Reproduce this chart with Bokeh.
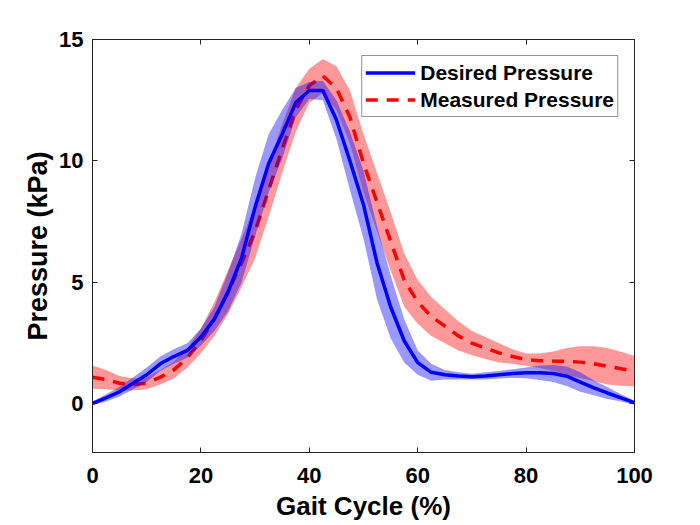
from bokeh.plotting import figure
from bokeh.models import LinearAxis, Range1d, FixedTicker, Legend, LegendItem
from bokeh.embed import file_html
from bokeh.resources import INLINE
import numpy as np

# Gait cycle (%) sample positions
gait = [0, 2.5, 5, 7.5, 10, 12.5, 15, 17.5, 20, 22.5, 25, 27.5, 30, 32.5, 35, 37.5,
        40, 42.5, 45, 47.5, 50, 52.5, 55, 57.5, 60, 62.5, 65, 67.5, 70, 72.5, 75,
        77.5, 80, 82.5, 85, 87.5, 90, 92.5, 95, 97.5, 100]

# Desired pressure (kPa) mean and spread
desired = [0.02, 0.25, 0.5, 0.85, 1.2, 1.65, 1.95, 2.2, 2.75, 3.5, 4.6, 6.0, 8.1, 9.9,
           11.1, 12.4, 12.9, 12.9, 11.7, 10.0, 8.2, 5.8, 4.0, 2.6, 1.7, 1.3, 1.2, 1.15,
           1.12, 1.15, 1.2, 1.25, 1.28, 1.28, 1.25, 1.14, 0.9, 0.66, 0.45, 0.25, 0.05]
desired_sd = [0.08, 0.15, 0.2, 0.25, 0.3, 0.3, 0.3, 0.3, 0.35, 0.5, 0.8, 1.0, 1.2, 1.2,
              1.0, 0.6, 0.35, 0.4, 0.8, 1.2, 1.4, 1.5, 1.3, 0.9, 0.5, 0.35, 0.2, 0.15,
              0.12, 0.15, 0.15, 0.18, 0.22, 0.3, 0.35, 0.4, 0.4, 0.3, 0.25, 0.15, 0.08]

# Measured pressure (kPa) mean and spread
measured = [1.1, 1.0, 0.85, 0.8, 0.85, 1.1, 1.4, 1.9, 2.6, 3.5, 4.6, 5.8, 7.1, 8.8,
            10.5, 12.1, 13.1, 13.5, 13.0, 11.8, 9.9, 8.3, 6.7, 5.1, 4.2, 3.6, 3.2, 2.8,
            2.5, 2.3, 2.1, 1.95, 1.82, 1.78, 1.76, 1.75, 1.72, 1.65, 1.55, 1.45, 1.35]
measured_sd = [0.48, 0.4, 0.3, 0.25, 0.25, 0.3, 0.35, 0.4, 0.5, 0.7, 0.9, 1.0, 1.1, 1.1,
               1.0, 0.9, 0.7, 0.7, 0.9, 1.1, 1.2, 1.2, 1.2, 1.1, 0.9, 0.8, 0.7, 0.6,
               0.5, 0.45, 0.4, 0.3, 0.25, 0.3, 0.4, 0.55, 0.65, 0.72, 0.75, 0.7, 0.62]

x_ticks = [0, 20, 40, 60, 80, 100]
y_ticks = [0, 5, 10, 15]

g = np.array(gait)
d = np.array(desired); ds = np.array(desired_sd)
m = np.array(measured); ms = np.array(measured_sd)

FONT = "Liberation Sans"
AX = "#262626"

p = figure(frame_width=542, frame_height=413, output_backend="svg", toolbar_location=None,
           x_range=Range1d(0, 100), y_range=Range1d(-2, 15),
           min_border_left=92, min_border_right=66, min_border_top=39, min_border_bottom=73)
p.background_fill_color = "white"
p.border_fill_color = "white"
p.outline_line_color = AX
p.outline_line_width = 1
p.xgrid.visible = False
p.ygrid.visible = False

# red band + line, then blue band + line
p.varea(x=g, y1=m - ms, y2=m + ms, fill_color="#ff0000", fill_alpha=0.4)
rl = p.line(g, m, line_color="#ff0000", line_width=3.5, line_dash="12 9")
p.varea(x=g, y1=d - ds, y2=d + ds, fill_color="#0000ff", fill_alpha=0.4)
bl = p.line(g, d, line_color="#0000ff", line_width=3.5)

for ax in (p.xaxis[0], p.yaxis[0]):
    ax.axis_line_color = AX
    ax.major_tick_line_color = AX
    ax.major_tick_in = 5
    ax.major_tick_out = 0
    ax.minor_tick_line_color = None
    ax.major_label_text_font = FONT
    ax.major_label_text_font_style = "bold"
    ax.major_label_text_font_size = "22px"
    ax.major_label_text_color = "black"
    ax.axis_label_text_font = FONT
    ax.axis_label_text_font_style = "bold"
    ax.axis_label_text_color = "black"

p.xaxis[0].ticker = FixedTicker(ticks=x_ticks)
p.yaxis[0].ticker = FixedTicker(ticks=y_ticks)
p.xaxis[0].axis_label = "Gait Cycle (%)"
p.yaxis[0].axis_label = "Pressure (kPa)"
p.xaxis[0].axis_label_text_font_size = "26px"
p.yaxis[0].axis_label_text_font_size = "27px"
p.xaxis[0].major_label_standoff = 15
p.xaxis[0].axis_label_standoff = 5
p.yaxis[0].major_label_standoff = 9
p.yaxis[0].axis_label_standoff = 3

top = LinearAxis(ticker=FixedTicker(ticks=x_ticks), major_label_text_font_size="1px",
                 major_label_text_color=None,
                 major_label_standoff=0, major_tick_in=5, major_tick_out=0,
                 minor_tick_line_color=None, axis_line_color=AX, major_tick_line_color=AX)
right = LinearAxis(ticker=FixedTicker(ticks=y_ticks), major_label_text_font_size="1px",
                   major_label_text_color=None,
                   major_label_standoff=0, major_tick_in=5, major_tick_out=0,
                   minor_tick_line_color=None, axis_line_color=AX, major_tick_line_color=AX)
p.add_layout(top, "above")
p.add_layout(right, "right")

legend = Legend(items=[LegendItem(label="Desired Pressure", renderers=[bl]),
                       LegendItem(label="Measured Pressure", renderers=[rl])],
                location="top_right")
legend.label_text_font = FONT
legend.label_text_font_style = "bold"
legend.label_text_font_size = "21px"
legend.label_text_color = "black"
legend.glyph_width = 50
legend.glyph_height = 27
legend.label_height = 27
legend.label_standoff = 5
legend.padding = 3
legend.spacing = 0
legend.margin = 16
legend.border_line_color = AX
legend.border_line_width = 1
legend.background_fill_alpha = 1
p.add_layout(legend)

open("out.html", "w").write(file_html(p, INLINE))
